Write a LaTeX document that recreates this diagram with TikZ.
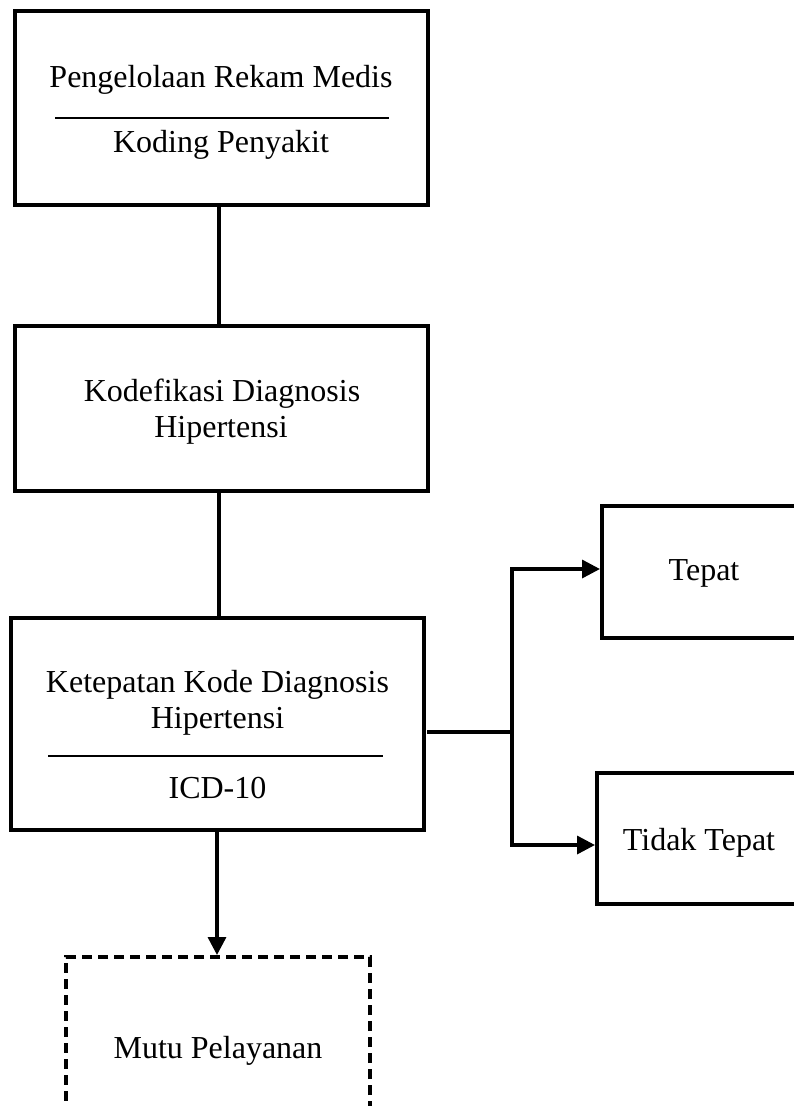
\documentclass[tikz,border=0pt]{standalone}
\usepackage{fontspec}
\setmainfont{Liberation Serif}
\usetikzlibrary{arrows.meta}
\begin{document}
\begin{tikzpicture}[x=1pt,y=-1pt,
  box/.style={draw, line width=3.4pt, rectangle, inner sep=0pt, outer sep=0pt},
  dashbox/.style={box, dash pattern=on 10pt off 6pt},
  lbl/.style={font=\fontsize{32}{38}\selectfont, anchor=base, inner sep=0pt},
  sep/.style={line width=2pt},
  conn/.style={line width=3.4pt},
  arr/.style={line width=3.4pt, -{Triangle[length=18pt,width=18pt]}}]
\useasboundingbox (0,0) rectangle (794,1106);
\clip (0,0) rectangle (794,1106);
% boxes
\node[box, minimum width=413pt, minimum height=194pt] (b1) at (221.5,108) {};
\node[box, minimum width=413pt, minimum height=165pt] (b2) at (221.5,408.5) {};
\node[box, minimum width=413pt, minimum height=212pt] (b3) at (217.5,724) {};
\node[box, minimum width=204pt, minimum height=132pt] (tepat) at (704,572) {};
\node[box, minimum width=204pt, minimum height=131pt] (tidak) at (699,838.5) {};
\node[dashbox, minimum width=304pt, minimum height=186pt] (mutu) at (218,1050) {};
% texts
\node[lbl] (t1a) at (221,87) {Pengelolaan Rekam Medis};
\node[lbl] (t1b) at (221,152) {Koding Penyakit};
\coordinate (s1a) at (55,118);
\coordinate (s1b) at (389,118);
\draw[sep] (s1a) -- (s1b);
\node[lbl] (t2a) at (222,401) {Kodefikasi Diagnosis};
\node[lbl] (t2b) at (221,437) {Hipertensi};
\node[lbl] (t3a) at (217.5,692) {Ketepatan Kode Diagnosis};
\node[lbl] (t3b) at (217.5,728) {Hipertensi};
\coordinate (s3a) at (48,756);
\coordinate (s3b) at (383,756);
\draw[sep] (s3a) -- (s3b);
\node[lbl] (t3c) at (217.5,798) {ICD-10};
\node[lbl] (t4) at (704,580) {Tepat};
\node[lbl] (t5) at (699,850) {Tidak Tepat};
\node[lbl] (t6) at (218,1058) {Mutu Pelayanan};
% connectors
\coordinate (cx) at (219,0);
\draw[conn] (b1.south -| cx) -- (b2.north -| cx);
\draw[conn] (b2.south -| cx) -- (b3.north -| cx);
\coordinate (j) at (512,732);
\draw[conn] ([xshift=3pt]b3.east |- j) -- (j);
\draw[arr] (j) |- ([yshift=3pt,xshift=-2pt]tepat.west);
\draw[arr] (j) |- ([yshift=-6.5pt,xshift=-2pt]tidak.west);
\draw[arr] ([xshift=-1pt]b3.south -| mutu.north) -- ([xshift=-1pt,yshift=2pt]mutu.north);
\end{tikzpicture}
\end{document}
